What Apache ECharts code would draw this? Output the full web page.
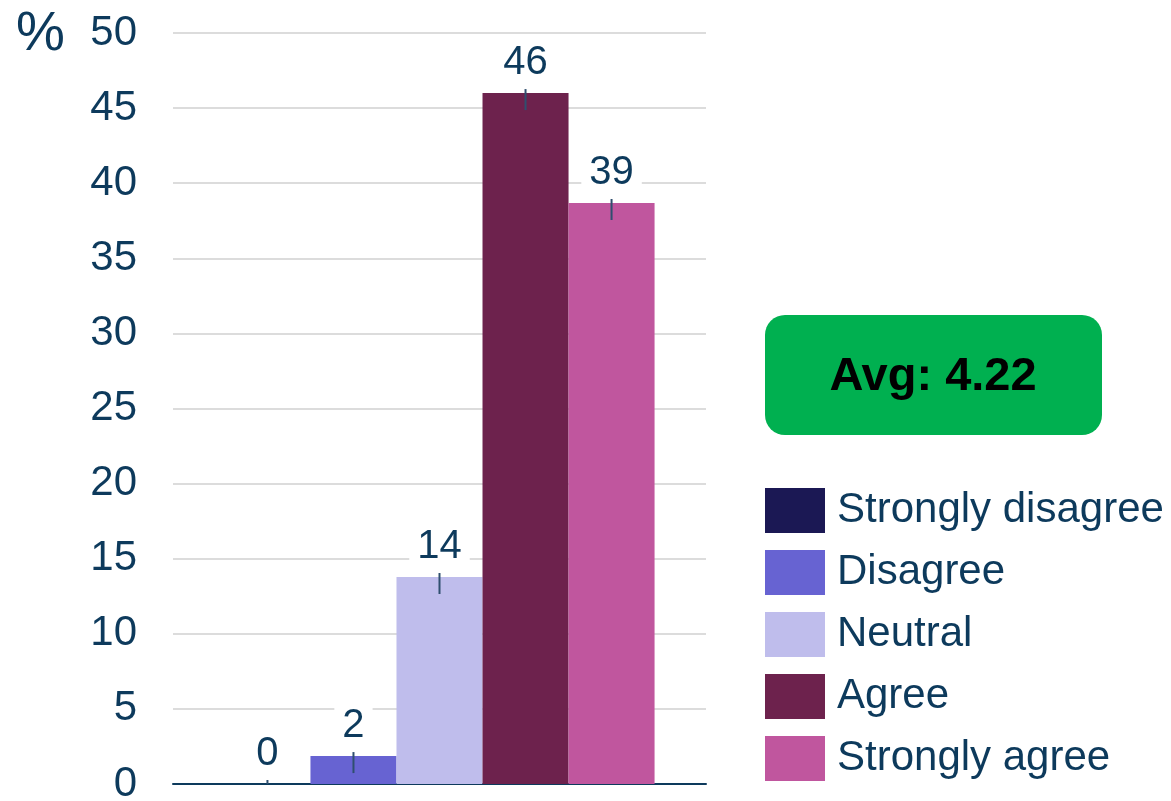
<!DOCTYPE html>
<html>
<head>
<meta charset="utf-8">
<script src="https://cdn.jsdelivr.net/npm/echarts@6/dist/echarts.min.js"></script>
<style>
  html, body { margin: 0; padding: 0; background: #fff; }
  #chart { width: 1171px; height: 801px; }
</style>
</head>
<body>
<div id="chart"></div>
<script>
// Survey response shares (%)
const responses = ['Strongly disagree', 'Disagree', 'Neutral', 'Agree', 'Strongly agree'];
const shares = [0, 1.86, 13.78, 46.0, 38.68];
const barColors = ['#1b1854', '#6763d2', '#bfbdec', '#6d224d', '#c0569e'];
const yTicks = { min: 0, max: 50, interval: 5 };
const avgScore = 4.22;

const textColor = '#0d3a5c';
const fontFamily = 'Arial, "Liberation Sans", sans-serif';
const gapRatio = 0.193;

const chart = echarts.init(document.getElementById('chart'));

const barSeries = responses.map((name, i) => ({
  name: name,
  type: 'bar',
  data: [shares[i]],
  barGap: '0%',
  barCategoryGap: (gapRatio * 100) + '%',
  itemStyle: { color: barColors[i] },
  label: {
    show: true,
    position: 'top',
    distance: 10,
    color: textColor,
    fontFamily: fontFamily,
    fontSize: 40,
    backgroundColor: '#fff',
    padding: [0, 8],
    formatter: p => Math.round(p.value)
  },
  z: 3
}));

// Small vertical marker through the top of each bar
const markerSeries = {
  type: 'custom',
  name: 'markers',
  coordinateSystem: 'cartesian2d',
  data: shares.map((v, i) => [0, v, i]),
  clip: true,
  z: 4,
  silent: true,
  renderItem: function (params, api) {
    const idx = api.value(2);
    const top = api.coord([api.value(0), api.value(1)]);
    const catW = api.size([1, 0])[0];
    const barW = catW * (1 - gapRatio) / responses.length;
    const x = top[0] + (idx - (responses.length - 1) / 2) * barW;
    return {
      type: 'line',
      shape: { x1: x, y1: top[1] - 4, x2: x, y2: top[1] + 17 },
      style: { stroke: '#2f4f6f', lineWidth: 2 }
    };
  }
};

chart.setOption({
  animation: false,
  backgroundColor: '#fff',
  grid: { left: 173, right: 465, top: 33, bottom: 17, outerBoundsMode: 'none' },
  xAxis: {
    type: 'category',
    data: [''],
    axisLine: { lineStyle: { color: textColor, width: 2 } },
    axisTick: { show: false },
    axisLabel: { show: false }
  },
  yAxis: {
    type: 'value',
    min: yTicks.min,
    max: yTicks.max,
    interval: yTicks.interval,
    axisLine: { show: false },
    axisTick: { show: false },
    axisLabel: {
      color: textColor,
      fontFamily: fontFamily,
      fontSize: 42,
      margin: 36
    },
    splitLine: { lineStyle: { color: '#dcdcdc', width: 2 } }
  },
  legend: {
    data: responses,
    orient: 'vertical',
    left: 760,
    top: 483,
    icon: 'rect',
    itemWidth: 60,
    itemHeight: 45,
    itemGap: 17,
    textStyle: {
      color: textColor,
      fontFamily: fontFamily,
      fontSize: 42,
      padding: [0, 0, 0, 7]
    },
    selectedMode: false
  },
  graphic: [
    {
      type: 'text',
      left: 16,
      top: 7,
      style: {
        text: '%',
        fill: textColor,
        font: '55px ' + fontFamily
      }
    },
    {
      type: 'group',
      left: 765,
      top: 315,
      children: [
        {
          type: 'rect',
          shape: { x: 0, y: 0, width: 337, height: 120, r: 20 },
          style: { fill: '#00b050' }
        },
        {
          type: 'text',
          x: 168,
          y: 62,
          style: {
            text: 'Avg: ' + avgScore.toFixed(2),
            fill: '#000',
            font: 'bold 47px ' + fontFamily,
            textAlign: 'center',
            textVerticalAlign: 'middle'
          }
        }
      ]
    }
  ],
  series: [...barSeries, markerSeries]
});
</script>
</body>
</html>
